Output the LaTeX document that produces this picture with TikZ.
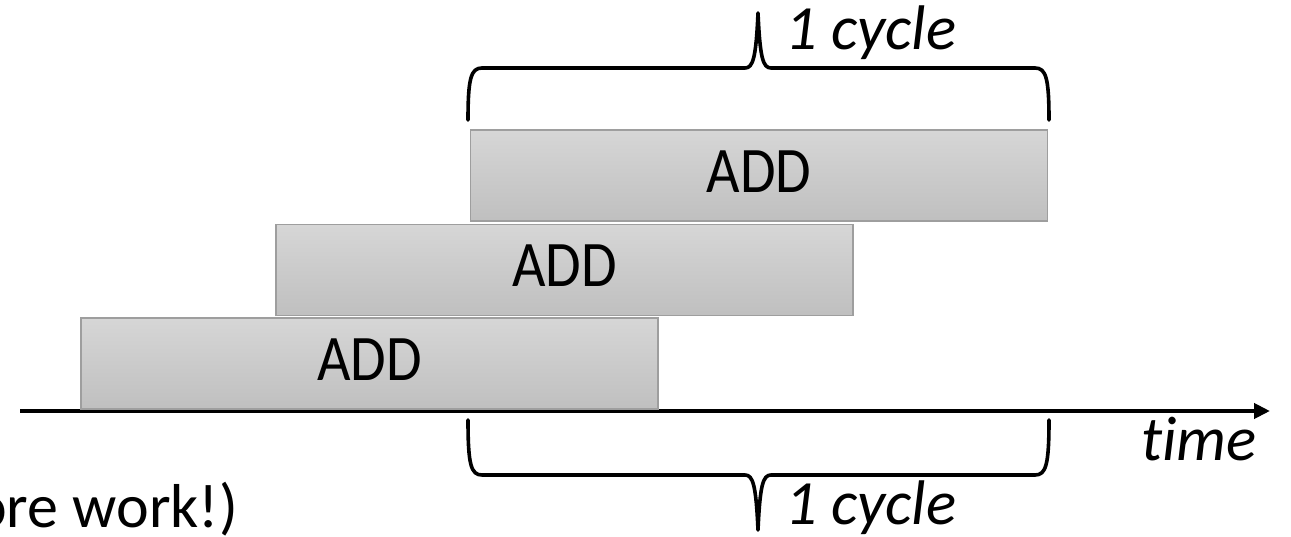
\documentclass[tikz,border=0pt]{standalone}
\usepackage{fontspec}
\setmainfont{Carlito}[Ligatures=NoCommon]
\newfontfamily\boxfont{Carlito}[FakeStretch=0.89]
\usetikzlibrary{arrows.meta}
\begin{document}
\begin{tikzpicture}[x=1pt,y=-1pt,
  addbox/.style={draw=black!38, line width=1.6pt, top color=black!16, bottom color=black!25,
    minimum width=577pt, minimum height=91pt, inner sep=0pt, text depth=8pt,
    font=\boxfont\fontsize{65}{72}\selectfont},
  axis/.style={line width=4pt, -{Triangle[length=16pt,width=15pt]}},
  bracepath/.style={line width=3.6pt, line cap=round, line join=round},
  lbl/.style={inner sep=0pt, font=\fontsize{63}{70}\selectfont\itshape}]
\useasboundingbox (0,0) rectangle (1291,537);

% time axis
\coordinate (axL) at (20,411);
\coordinate (axR) at (1270,411);
\draw[axis] (axL) -- (axR);

% pipelined instructions
\node[addbox] (add1) at (369.5,363.5) {ADD};
\node[addbox] (add2) at (564.5,270) {ADD};
\node[addbox] (add3) at (759,175.5) {ADD};

% upper brace
\draw[bracepath] (468,120) .. controls (468,78) and (471,68) .. (482,68) -- (745,68)
  .. controls (753,68) and (756,58) .. (758,13)
  .. controls (760,58) and (763,68) .. (771,68) -- (1035,68)
  .. controls (1046,68) and (1049,78) .. (1049,120);
\node[lbl, anchor=base west] (cyctop) at (785,50) {1 cycle};

% lower brace
\draw[bracepath] (468,420) .. controls (468,465) and (471,475) .. (482,475) -- (745,475)
  .. controls (753,475) and (756,485) .. (758,530)
  .. controls (760,485) and (763,475) .. (771,475) -- (1035,475)
  .. controls (1046,475) and (1049,465) .. (1049,420);
\node[lbl, anchor=base west] (cycbot) at (785,524) {1 cycle};

\node[lbl, anchor=base east] (time) at (1257,460) {time};
\node[inner sep=0pt, anchor=base east, font=\fontsize{62}{70}\selectfont] (more) at (238,527) {(more work!)};
\end{tikzpicture}
\end{document}
